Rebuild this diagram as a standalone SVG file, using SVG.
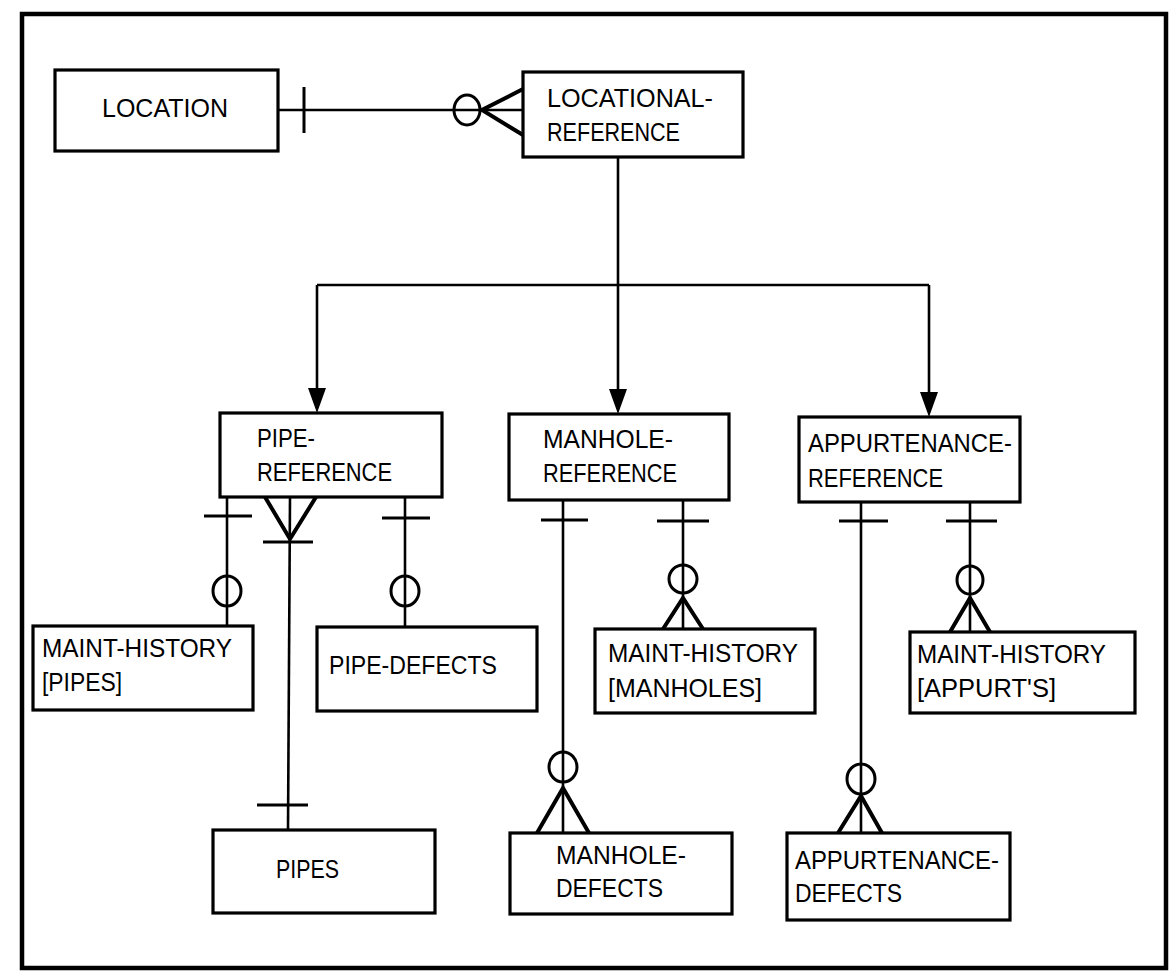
<svg xmlns="http://www.w3.org/2000/svg" width="1170" height="971" viewBox="0 0 1170 971">
<style>
.frame{fill:#fff;stroke:#000;stroke-width:4.5}
.box{fill:#fff;stroke:#000;stroke-width:3.2}
.lbl{font-family:"Liberation Sans",Arial,sans-serif;font-size:26px;fill:#000}
.ln{stroke:#000;stroke-width:2.6;fill:none}
.bar{stroke:#000;stroke-width:3;fill:none}
.crow{stroke:#000;stroke-width:4;fill:none;stroke-linejoin:miter}
.circ{stroke:#000;stroke-width:3;fill:none}
</style>
<rect class="frame" x="22" y="14" width="1144" height="954"/>
<g id="connectors">
<line class="ln" x1="278" y1="110" x2="523" y2="110"/>
<line class="bar" x1="304" y1="87" x2="304" y2="133"/>
<ellipse class="circ" cx="467" cy="110" rx="13" ry="15"/>
<polyline class="crow" points="523,89 482,110 523,135"/>
<line class="ln" x1="618" y1="157" x2="618" y2="285"/>
<line class="ln" x1="317" y1="285" x2="929" y2="285"/>
<line class="ln" x1="317" y1="285" x2="317" y2="388"/>
<path d="M308,388 L326,388 L317,413 Z" fill="#000"/>
<line class="ln" x1="618" y1="285" x2="618" y2="389"/>
<path d="M609,389 L627,389 L618,414 Z" fill="#000"/>
<line class="ln" x1="929" y1="285" x2="929" y2="392"/>
<path d="M920,392 L938,392 L929,417 Z" fill="#000"/>
<line class="ln" x1="227" y1="497" x2="227" y2="626"/>
<line class="bar" x1="204" y1="516" x2="252" y2="516"/>
<ellipse class="circ" cx="227" cy="591" rx="14" ry="15"/>
<polyline class="crow" points="265,497 290,539 316,497"/>
<line class="ln" x1="290" y1="497" x2="288" y2="830"/>
<line class="bar" x1="263" y1="542" x2="313" y2="542"/>
<line class="bar" x1="257" y1="805" x2="308" y2="805"/>
<line class="ln" x1="405" y1="497" x2="405" y2="627"/>
<line class="bar" x1="382" y1="518" x2="430" y2="518"/>
<ellipse class="circ" cx="405" cy="591" rx="14" ry="15"/>
<line class="ln" x1="563" y1="500" x2="563" y2="833"/>
<line class="bar" x1="541" y1="520" x2="588" y2="520"/>
<ellipse class="circ" cx="563" cy="767" rx="14" ry="15"/>
<polyline class="crow" points="537,833 563,788 589,833"/>
<line class="ln" x1="683" y1="500" x2="683" y2="629"/>
<line class="bar" x1="657" y1="521" x2="709" y2="521"/>
<ellipse class="circ" cx="683" cy="579" rx="14" ry="14"/>
<polyline class="crow" points="663,629 683,598 703,629"/>
<line class="ln" x1="861" y1="502" x2="861" y2="833"/>
<line class="bar" x1="839" y1="521" x2="888" y2="521"/>
<ellipse class="circ" cx="861" cy="779" rx="14" ry="15"/>
<polyline class="crow" points="838,833 861,796 882,833"/>
<line class="ln" x1="970" y1="502" x2="970" y2="632"/>
<line class="bar" x1="946" y1="521" x2="997" y2="521"/>
<ellipse class="circ" cx="970" cy="580" rx="13" ry="14"/>
<polyline class="crow" points="950,632 970,598 990,632"/>
</g>
<g id="location">
<rect class="box" x="55" y="70" width="223" height="81"/>
<text class="lbl" x="102" y="117" textLength="126" lengthAdjust="spacingAndGlyphs">LOCATION</text>
</g>
<g id="locational-reference">
<rect class="box" x="523" y="72" width="220" height="85"/>
<text class="lbl" x="547" y="107" textLength="166" lengthAdjust="spacingAndGlyphs">LOCATIONAL-</text>
<text class="lbl" x="547" y="141" textLength="133" lengthAdjust="spacingAndGlyphs">REFERENCE</text>
</g>
<g id="pipe-reference">
<rect class="box" x="220" y="413" width="222" height="84"/>
<text class="lbl" x="257" y="447" textLength="58" lengthAdjust="spacingAndGlyphs">PIPE-</text>
<text class="lbl" x="257" y="481" textLength="135" lengthAdjust="spacingAndGlyphs">REFERENCE</text>
</g>
<g id="manhole-reference">
<rect class="box" x="509" y="414" width="220" height="86"/>
<text class="lbl" x="543" y="448" textLength="130" lengthAdjust="spacingAndGlyphs">MANHOLE-</text>
<text class="lbl" x="543" y="482" textLength="134" lengthAdjust="spacingAndGlyphs">REFERENCE</text>
</g>
<g id="appurtenance-reference">
<rect class="box" x="799" y="417" width="221" height="85"/>
<text class="lbl" x="808" y="452" textLength="204" lengthAdjust="spacingAndGlyphs">APPURTENANCE-</text>
<text class="lbl" x="808" y="487" textLength="135" lengthAdjust="spacingAndGlyphs">REFERENCE</text>
</g>
<g id="maint-history-pipes">
<rect class="box" x="33" y="626" width="220" height="84"/>
<text class="lbl" x="42" y="657" textLength="190" lengthAdjust="spacingAndGlyphs">MAINT-HISTORY</text>
<text class="lbl" x="42" y="691" textLength="80" lengthAdjust="spacingAndGlyphs">[PIPES]</text>
</g>
<g id="pipe-defects">
<rect class="box" x="317" y="627" width="220" height="84"/>
<text class="lbl" x="329" y="674" textLength="168" lengthAdjust="spacingAndGlyphs">PIPE-DEFECTS</text>
</g>
<g id="maint-history-manholes">
<rect class="box" x="595" y="629" width="220" height="84"/>
<text class="lbl" x="608" y="662" textLength="190" lengthAdjust="spacingAndGlyphs">MAINT-HISTORY</text>
<text class="lbl" x="608" y="697" textLength="154" lengthAdjust="spacingAndGlyphs">[MANHOLES]</text>
</g>
<g id="maint-history-appurts">
<rect class="box" x="910" y="632" width="225" height="81"/>
<text class="lbl" x="917" y="663" textLength="189" lengthAdjust="spacingAndGlyphs">MAINT-HISTORY</text>
<text class="lbl" x="917" y="697" textLength="139" lengthAdjust="spacingAndGlyphs">[APPURT'S]</text>
</g>
<g id="pipes">
<rect class="box" x="213" y="830" width="222" height="83"/>
<text class="lbl" x="276" y="878" textLength="63" lengthAdjust="spacingAndGlyphs">PIPES</text>
</g>
<g id="manhole-defects">
<rect class="box" x="510" y="833" width="222" height="81"/>
<text class="lbl" x="556" y="864" textLength="130" lengthAdjust="spacingAndGlyphs">MANHOLE-</text>
<text class="lbl" x="556" y="897" textLength="107" lengthAdjust="spacingAndGlyphs">DEFECTS</text>
</g>
<g id="appurtenance-defects">
<rect class="box" x="787" y="833" width="223" height="87"/>
<text class="lbl" x="795" y="869" textLength="204" lengthAdjust="spacingAndGlyphs">APPURTENANCE-</text>
<text class="lbl" x="795" y="902" textLength="107" lengthAdjust="spacingAndGlyphs">DEFECTS</text>
</g>
</svg>
